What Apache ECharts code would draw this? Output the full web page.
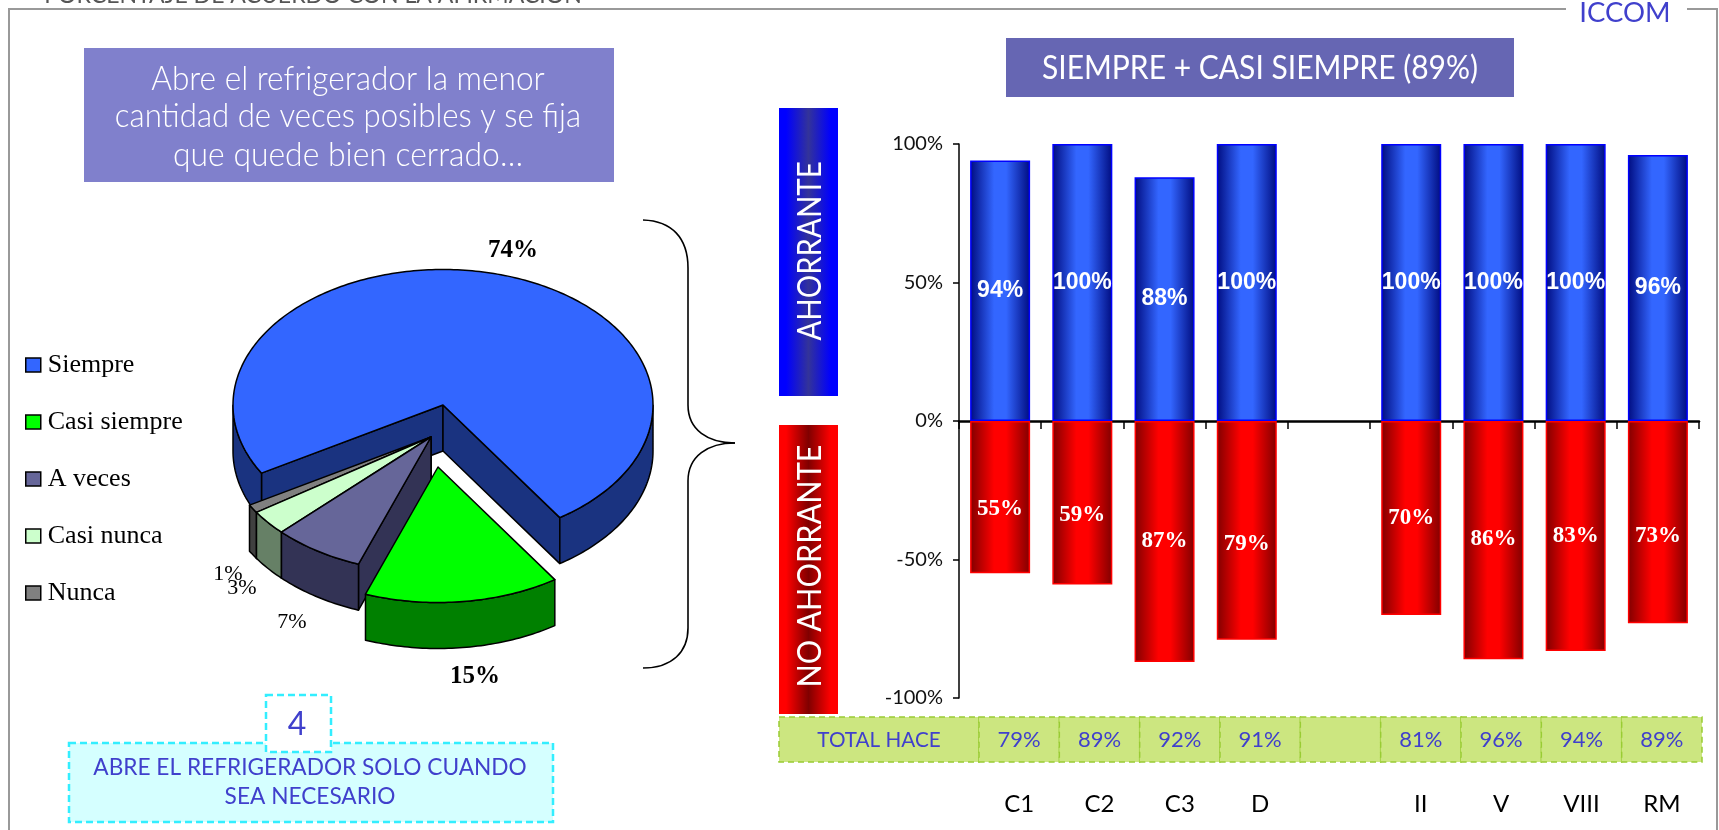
<!DOCTYPE html>
<html>
<head>
<meta charset="utf-8">
<script src="https://cdn.jsdelivr.net/npm/echarts@6/dist/echarts.min.js"></script>
<style>
  html, body { margin: 0; padding: 0; background: #fff; }
  #chart { width: 1719px; height: 830px; }
</style>
</head>
<body>
<div id="chart"></div>
<script>
// pie: porcentaje de acuerdo
const pieNames = ['Siempre', 'Casi siempre', 'A veces', 'Casi nunca', 'Nunca']
const pieValues = [74, 15, 7, 3, 1]

// bars
const categories = ['C1', 'C2', 'C3', 'D', ' ', 'II', 'V', 'VIII', 'RM']
const ahorrante = [94, 100, 88, 100, null, 100, 100, 100, 96]
const noAhorrante = [-55, -59, -87, -79, null, -70, -86, -83, -73]
const totalHace = [79, 89, 92, 91, null, 81, 96, 94, 89]
const yTicks = [-100, -50, 0, 50, 100]

const SANS = 'Lato, "Open Sans", sans-serif'
const SERIF = '"Liberation Serif", serif'
const INK = '#4040CC'

// pie look, same order as pieNames
const pieTop = ['#3366FF', '#00FF00', '#666699', '#CCFFCC', '#808080']
const pieWall = ['#1A3380', '#008000', '#333355', '#668066', '#404040']
const pieShift = [[0, 0], [-5, 62], [-12, 32], [-12, 32], [-12, 32]]
const pieLabelAt = [[513, 251], [475, 677], [292, 622], [242, 588], [228, 574]]
const pieLabelBold = [true, true, false, false, false]
const drawOrder = [0, 4, 3, 2, 1]
const CX = 443, CY = 405, RX = 210, RY = 135.5, WALL = 46, START = 149.8

const redLabelShift = [12, 12, 0, 14, 0, 0, -1, 0, 14]

function pt (cx, cy, deg, drop) {
  const a = deg * Math.PI / 180
  return [cx + RX * Math.cos(a), cy + RY * Math.sin(a) + (drop || 0)]
}

function drawSlice (idx) {
  return function (params, api) {
    const before = pieValues.slice(0, idx).reduce((s, v) => s + v, 0)
    const a0 = START + before * 3.6
    const a1 = a0 + api.value(0) * 3.6
    const cx = CX + pieShift[idx][0]
    const cy = CY + pieShift[idx][1]
    const edge = { stroke: '#000', lineWidth: 1.5, lineJoin: 'round' }
    const wall = Object.assign({ fill: pieWall[idx] }, edge)
    const kids = []

    // cut faces that look at the viewer
    const face = deg => {
      const p = pt(cx, cy, deg)
      kids.push({
        type: 'polygon',
        shape: { points: [[cx, cy], p, [p[0], p[1] + WALL], [cx, cy + WALL]] },
        style: wall
      })
    }
    if (Math.cos(a0 * Math.PI / 180) < 0) face(a0)
    if (Math.cos(a1 * Math.PI / 180) > 0) face(a1)

    // outer wall, only where the rim faces front
    let run = []
    const flush = () => {
      if (run.length > 1) {
        const low = run.map(p => [p[0], p[1] + WALL]).reverse()
        kids.push({ type: 'polygon', shape: { points: run.concat(low) }, style: wall })
      }
      run = []
    }
    const steps = Math.max(6, Math.round(a1 - a0))
    for (let i = 0; i <= steps; i++) {
      const d = a0 + (a1 - a0) * i / steps
      if (Math.sin(d * Math.PI / 180) >= 0) run.push(pt(cx, cy, d))
      else flush()
    }
    flush()

    // top surface
    const top = [[cx, cy]]
    for (let i = 0; i <= steps; i++) top.push(pt(cx, cy, a0 + (a1 - a0) * i / steps))
    kids.push({
      type: 'polygon',
      shape: { points: top },
      style: Object.assign({ fill: pieTop[idx] }, edge)
    })

    kids.push({
      type: 'text',
      style: {
        x: pieLabelAt[idx][0],
        y: pieLabelAt[idx][1],
        text: api.value(0) + '%',
        fill: '#000',
        align: 'center',
        verticalAlign: 'middle',
        font: (pieLabelBold[idx] ? 'bold 25px ' : '22px ') + SERIF
      }
    })
    return { type: 'group', children: kids }
  }
}

function barFill (edge, mid) {
  return {
    type: 'linear', x: 0, y: 0, x2: 1, y2: 0,
    colorStops: [
      { offset: 0, color: edge },
      { offset: 0.4, color: mid },
      { offset: 0.6, color: mid },
      { offset: 1, color: edge }
    ]
  }
}

function boxFill (edge, mid) {
  return {
    type: 'linear', x: 0, y: 0, x2: 1, y2: 0,
    colorStops: [
      { offset: 0, color: edge },
      { offset: 0.12, color: edge },
      { offset: 0.5, color: mid },
      { offset: 0.88, color: edge },
      { offset: 1, color: edge }
    ]
  }
}

function rect (x, y, w, h, style) {
  return { type: 'rect', shape: { x: x, y: y, width: w, height: h }, style: style }
}

function text (x, y, str, size, fill, opt) {
  opt = opt || {}
  return {
    type: 'text',
    x: x,
    y: y,
    rotation: opt.rotation || 0,
    scaleX: opt.sx || 1,
    scaleY: opt.sy || 1,
    style: {
      text: str,
      fill: fill,
      align: 'center',
      verticalAlign: 'middle',
      font: (opt.weight || 'normal') + ' ' + size + 'px ' + SANS
    }
  }
}

function curve (x1, y1, cx1, cy1, cx2, cy2, x2, y2) {
  return {
    type: 'bezierCurve',
    shape: { x1: x1, y1: y1, cpx1: cx1, cpy1: cy1, cpx2: cx2, cpy2: cy2, x2: x2, y2: y2 },
    style: { stroke: '#000', lineWidth: 1.6, fill: null }
  }
}

function stem (x, y1, y2) {
  return {
    type: 'line',
    shape: { x1: x, y1: y1, x2: x, y2: y2 },
    style: { stroke: '#000', lineWidth: 1.6 }
  }
}

const dashCyan = { stroke: '#33EEFF', lineWidth: 2.5, lineDash: [7, 4] }

const furniture = [
  // marco
  { type: 'polyline', shape: { points: [[9, 830], [9, 9], [1566, 9]] }, style: { stroke: '#999', lineWidth: 2, fill: null } },
  { type: 'polyline', shape: { points: [[1687, 9], [1717, 9], [1717, 830]] }, style: { stroke: '#999', lineWidth: 2, fill: null } },
  text(313, -5, 'PORCENTAJE DE ACUERDO CON LA AFIRMACION', 24, '#555', { sx: 0.96 }),
  text(1625, 13, 'ICCOM', 27, INK, { sx: 1.02 }),

  rect(84, 48, 530, 134, { fill: '#8080CC' }),
  text(348, 79, 'Abre el refrigerador la menor', 29, '#fff', { weight: 300, sy: 1.15, sx: 1.09 }),
  text(348, 116, 'cantidad de veces posibles y se fija', 29, '#fff', { weight: 300, sy: 1.15, sx: 1.075 }),
  text(348, 155, 'que quede bien cerrado…', 29, '#fff', { weight: 300, sy: 1.15, sx: 1.1 }),

  rect(1006, 38, 508, 59, { fill: '#6666B3' }),
  text(1260, 68, 'SIEMPRE + CASI SIEMPRE (89%)', 30, '#fff', { sy: 1.1 }),

  rect(779, 108, 59, 288, { fill: boxFill('#0000FF', '#333399') }),
  text(810, 251, 'AHORRANTE', 33, '#fff', { rotation: Math.PI / 2, sx: 0.89 }),
  rect(779, 425, 59, 289, { fill: boxFill('#FF0000', '#800000') }),
  text(810, 566, 'NO AHORRANTE', 33, '#fff', { rotation: Math.PI / 2, sx: 0.93 }),

  // llave
  curve(643, 220, 672, 221, 688, 238, 688, 268),
  stem(688, 268, 405),
  curve(688, 405, 688, 430, 708, 443, 735, 443),
  curve(735, 443, 708, 443, 688, 456, 688, 481),
  stem(688, 481, 628),
  curve(688, 628, 688, 652, 672, 668, 643, 668),

  rect(69, 743, 484, 79, Object.assign({ fill: '#D5FFFF' }, dashCyan)),
  rect(266, 695, 65, 57, Object.assign({ fill: '#fff' }, dashCyan)),
  text(297, 725, '4', 32, INK, {}),
  text(310, 768, 'ABRE EL REFRIGERADOR SOLO CUANDO', 23, INK, { sx: 0.985 }),
  text(310, 797, 'SEA NECESARIO', 23, INK, { sx: 0.985 }),

  // tira total hace
  rect(779, 717, 200, 45, { fill: '#CCE680', stroke: '#99CC33', lineWidth: 1.5, lineDash: [6, 4] }),
  text(879, 740, 'TOTAL HACE', 22, INK, { sx: 0.94 })
]

const sliceSeries = drawOrder.map(idx => ({
  name: pieNames[idx],
  type: 'custom',
  coordinateSystem: 'none',
  silent: true,
  itemStyle: { color: pieTop[idx] },
  renderItem: drawSlice(idx),
  data: [[pieValues[idx]]]
}))

const option = {
  animation: false,
  backgroundColor: '#fff',
  textStyle: { fontFamily: SANS },
  graphic: furniture,
  legend: {
    left: 25,
    top: 352,
    padding: 0,
    orient: 'vertical',
    icon: 'rect',
    itemWidth: 15,
    itemHeight: 14,
    itemGap: 31,
    selectedMode: false,
    textStyle: { fontFamily: SERIF, fontSize: 26, color: '#000', padding: [0, 0, 0, 2] },
    itemStyle: { borderColor: '#000', borderWidth: 1.5 },
    data: pieNames
  },
  grid: [
    { left: 959, top: 144, width: 740, height: 554 },
    { left: 979, top: 717, width: 723, height: 45 }
  ],
  xAxis: [
    {
      type: 'category',
      gridIndex: 0,
      data: categories,
      axisLine: { onZero: true, lineStyle: { color: '#000', width: 2.5 } },
      axisTick: { show: true, length: 8, lineStyle: { color: '#000', width: 1.5 } },
      axisLabel: { show: false }
    },
    {
      type: 'category',
      gridIndex: 1,
      data: categories,
      axisLine: { show: false },
      axisTick: { show: false },
      axisLabel: { interval: 0, margin: 30, color: '#000', fontSize: 24, fontFamily: SANS }
    }
  ],
  yAxis: [
    {
      type: 'value',
      gridIndex: 0,
      min: yTicks[0],
      max: yTicks[yTicks.length - 1],
      interval: 50,
      splitLine: { show: false },
      axisLine: { show: true, lineStyle: { color: '#000', width: 1.5 } },
      axisTick: { show: true, length: 6, lineStyle: { color: '#000', width: 1.5 } },
      axisLabel: { formatter: '{value}%', color: '#111', fontSize: 20, margin: 16, fontFamily: SANS }
    },
    { type: 'value', gridIndex: 1, min: 0, max: 1, show: false }
  ],
  series: [
    {
      name: 'Ahorrante',
      type: 'bar',
      xAxisIndex: 0,
      yAxisIndex: 0,
      barWidth: 60,
      barGap: '-100%',
      silent: true,
      itemStyle: { color: barFill('#000C80', '#3366FF'), borderColor: '#0000FF', borderWidth: 1.5 },
      label: {
        show: true,
        position: 'inside',
        formatter: p => p.value + '%',
        color: '#fff',
        fontFamily: '"Liberation Sans", sans-serif',
        fontWeight: 'bold',
        fontSize: 23
      },
      data: ahorrante
    },
    {
      name: 'No ahorrante',
      type: 'bar',
      xAxisIndex: 0,
      yAxisIndex: 0,
      barWidth: 60,
      silent: true,
      itemStyle: { color: barFill('#800000', '#FF0000'), borderColor: '#FF0000', borderWidth: 1.5 },
      label: {
        show: true,
        position: 'inside',
        formatter: p => Math.abs(p.value) + '%',
        color: '#fff',
        fontFamily: SERIF,
        fontWeight: 'bold',
        fontSize: 23
      },
      data: noAhorrante.map((v, i) => ({ value: v, label: { offset: [0, redLabelShift[i]] } }))
    },
    {
      name: 'Total hace',
      type: 'custom',
      xAxisIndex: 1,
      yAxisIndex: 1,
      silent: true,
      renderItem: function (params, api) {
        const mid = api.coord([api.value(0), 0.5])
        const w = api.size([1, 0])[0]
        const g = params.coordSys
        const v = totalHace[params.dataIndex]
        return {
          type: 'group',
          children: [
            {
              type: 'rect',
              shape: { x: mid[0] - w / 2, y: g.y, width: w, height: g.height },
              style: { fill: '#CCE680', stroke: '#99CC33', lineWidth: 1.5, lineDash: [6, 4] }
            },
            {
              type: 'text',
              style: {
                x: mid[0],
                y: mid[1],
                text: v === null ? '' : v + '%',
                fill: INK,
                align: 'center',
                verticalAlign: 'middle',
                font: '22px ' + SANS
              }
            }
          ]
        }
      },
      data: categories.map((c, i) => [i])
    }
  ].concat(sliceSeries)
}

const myChart = echarts.init(document.getElementById('chart'))
myChart.setOption(option)
</script>
</body>
</html>
